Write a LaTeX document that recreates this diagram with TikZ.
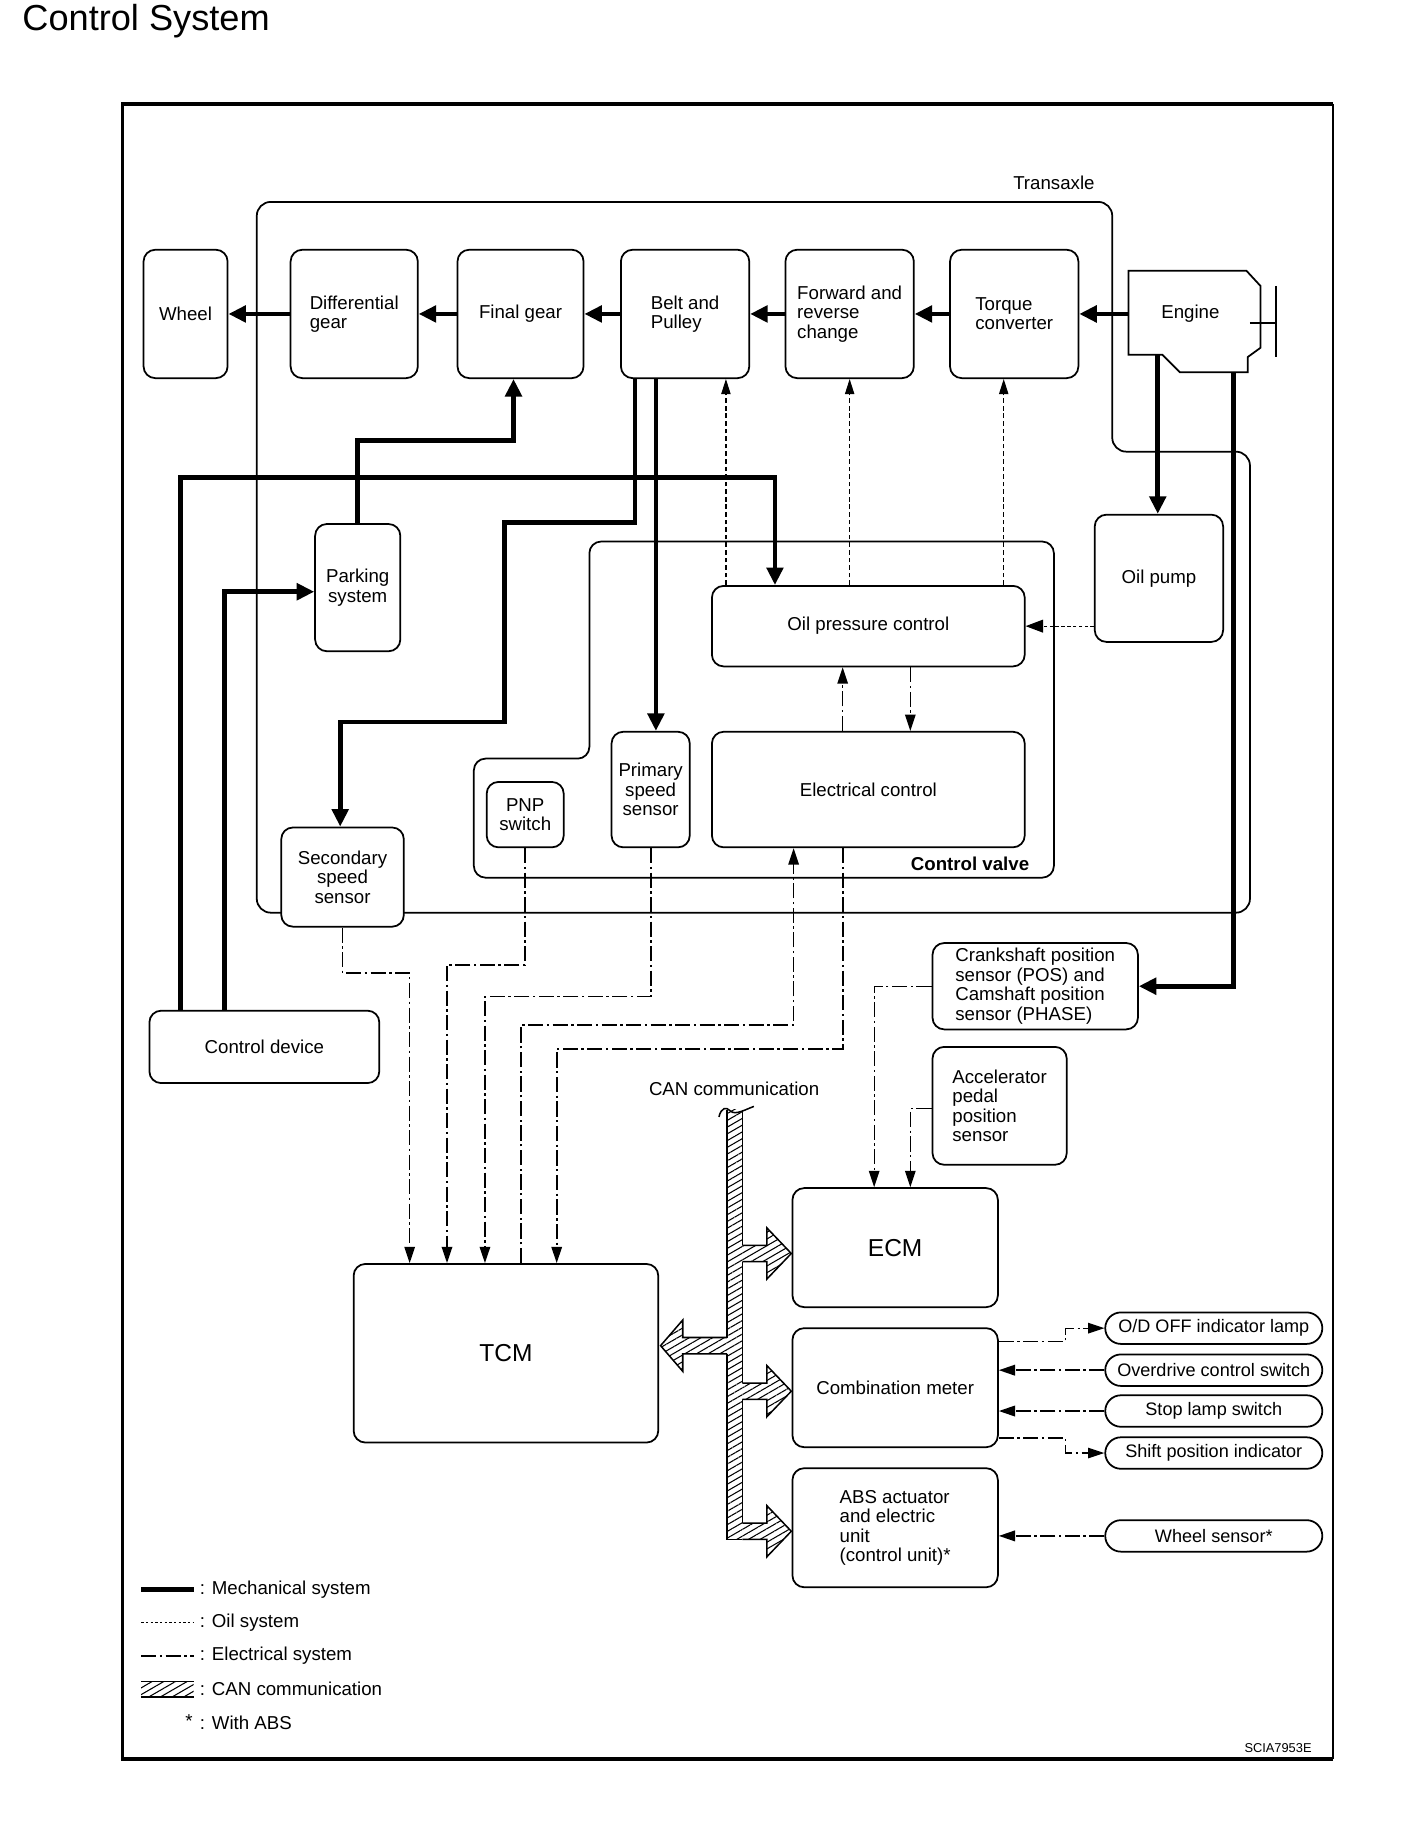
\documentclass[tikz,border=0pt]{standalone}
\usepackage{fontspec}
\setmainfont{Liberation Sans}
\usetikzlibrary{arrows.meta,patterns.meta}
\tikzset{
  txt/.style={font=\fontsize{16}{16.6}\selectfont},
  box/.style={txt,draw,line width=1.5pt,rounded corners=10pt,fill=white,inner sep=0pt,align=left},
  pill/.style={font=\fontsize{15.5}{16}\selectfont,draw,line width=1.5pt,rounded corners=13.5pt,fill=white,inner sep=0pt,minimum width=186pt,minimum height=27pt},
  mech/.style={line width=4pt,-{Triangle[length=15pt,width=14pt]}},
  oil/.style={line width=1pt,dash pattern=on 4pt off 2.5pt,-{Triangle[length=13pt,width=8pt]}},
  elecline/.style={line width=1.1pt,dash pattern=on 13pt off 3pt on 2pt off 3pt},
  elec/.style={elecline,-{Triangle[length=14pt,width=9pt]}},
  elecB/.style={elec,line width=1.8pt},
  hatch/.style={pattern={Lines[angle=30,distance=5pt,line width=0.9pt]}},
  thin/.style={line width=1.5pt},
}
\newcommand\canR[1]{%
  \fill[white] (636,#1-7) -- (657,#1-7) -- (657,#1-22) -- (678,#1) -- (657,#1+22) -- (657,#1+7) -- (636,#1+7) -- cycle;
  \path[hatch] (636,#1-7) -- (657,#1-7) -- (657,#1-22) -- (678,#1) -- (657,#1+22) -- (657,#1+7) -- (636,#1+7) -- cycle;
  \draw[line width=1.3pt,line join=miter] (636,#1-7) -- (657,#1-7) -- (657,#1-22) -- (678,#1) -- (657,#1+22) -- (657,#1+7) -- (636,#1+7);}
\begin{document}
\begin{tikzpicture}[x=1pt,y=-1pt]
\fill[white] (0,0) rectangle (1206,1568);
\useasboundingbox (0,0) rectangle (1206,1568);

% title
\node[anchor=west,inner sep=0,font=\fontsize{31}{31}\selectfont] (title) at (19,18) {Control System};

% outer frame
\draw[line width=1.8pt] (1142,89) -- (1142,1507);
\draw[line width=3pt] (1142,89) -- (105,89) -- (105,1507) -- (1142,1507);

% transaxle boundary
\draw[thin,rounded corners=12pt] (953,300) -- (953,173) -- (220,173) -- (220,782) -- (1071,782) -- (1071,387) -- (953,387) -- cycle;
\node[txt] (transaxle) at (903,157) {Transaxle};

% control valve boundary
\draw[thin,rounded corners=10pt] (700,464) -- (903,464) -- (903,752) -- (406,752) -- (406,650) -- (505,650) -- (505,464) -- cycle;
\node[font=\fontsize{16}{16.6}\selectfont\bfseries,anchor=east,inner sep=0] (cvlabel) at (882,740) {Control valve};

% top row
\node[box,minimum width=72pt,minimum height=110pt] (wheel) at (159,269) {Wheel};
\node[box,minimum width=109pt,minimum height=110pt] (diff) at (303.5,269) {Differential\\gear};
\node[box,minimum width=108pt,minimum height=110pt] (final) at (446,269) {Final gear};
\node[box,minimum width=110pt,minimum height=110pt] (belt) at (587,269) {Belt and\\Pulley};
\node[box,minimum width=110pt,minimum height=110pt] (frc) at (728,269) {Forward and\\reverse\\change};
\node[box,minimum width=110pt,minimum height=110pt] (tc) at (869,269) {Torque\\converter};

% engine
\draw[thin,line join=miter] (967,232) -- (1068,232) -- (1080,245) -- (1080,298) -- (1069,306) -- (1069,319) -- (1011,319) -- (996,304) -- (967,304) -- cycle;
\draw[thin] (1093,245) -- (1093,306);
\draw[thin] (1071,277) -- (1093,277);
\node[txt,inner sep=0] (engine) at (1020,269) {Engine};
\coordinate (engw) at (967,269);
\coordinate (engb1) at (992,304);
\coordinate (engb2) at (1057,319);

% middle
\node[box,align=center,minimum width=73pt,minimum height=109pt] (parking) at (306.5,503.5) {Parking\\system};
\node[box,minimum width=110pt,minimum height=109pt] (oilpump) at (993,495.5) {Oil pump};
\node[box,minimum width=268pt,minimum height=69pt] (opc) at (744,536.5) {Oil pressure control};
\node[box,minimum width=268pt,minimum height=99pt] (ec) at (744,676.5) {Electrical control};
\node[box,align=center,minimum width=66pt,minimum height=56pt] (pnp) at (450,698) {PNP\\switch};
\node[box,align=center,minimum width=67pt,minimum height=99pt] (pss) at (557.5,676.5) {Primary\\speed\\sensor};
\node[box,align=center,minimum width=105pt,minimum height=85pt] (sss) at (293.5,751.5) {Secondary\\speed\\sensor};
\node[box,minimum width=197pt,minimum height=62pt] (cdev) at (226.5,897) {Control device};
\node[box,minimum width=176pt,minimum height=74pt] (crank) at (887,845) {Crankshaft position\\sensor (POS) and\\Camshaft position\\sensor (PHASE)};
\node[box,minimum width=115pt,minimum height=101pt] (accel) at (856.5,947.5) {Accelerator\\pedal\\position\\sensor};

% lower
\node[box,font=\fontsize{21}{21}\selectfont,minimum width=176pt,minimum height=102pt] (ecm) at (767,1069) {ECM};
\node[box,minimum width=176pt,minimum height=102pt] (cm) at (767,1189) {Combination meter};
\node[box,minimum width=176pt,minimum height=102pt] (abs) at (767,1309) {ABS actuator\\and electric\\unit\\(control unit)*};
\node[box,font=\fontsize{21}{21}\selectfont,minimum width=261pt,minimum height=153pt] (tcm) at (433.5,1159.5) {TCM};

\node[pill] (od) at (1040,1138) {O/D OFF indicator lamp};
\node[pill] (odsw) at (1040,1174) {Overdrive control switch};
\node[pill] (stop) at (1040,1209) {Stop lamp switch};
\node[pill] (shift) at (1040,1245) {Shift position indicator};
\node[pill] (wsen) at (1040,1316) {Wheel sensor*};

% mechanical
\draw[mech] (engw) -- (tc.east);
\draw[mech] (tc.west) -- (frc.east);
\draw[mech] (frc.west) -- (belt.east);
\draw[mech] (belt.west) -- (final.east);
\draw[mech] (final.west) -- (diff.east);
\draw[mech] (diff.west) -- (wheel.east);
\draw[mech] ([xshift=-43pt]belt.south) -- ++(0,123) -- ++(-112,0) -- ++(0,171) -| ([xshift=-2pt]sss.north);
\coordinate (b2) at ([xshift=-25pt]belt.south);
\draw[mech] (b2) -- (b2 |- pss.north);
\draw[mech] (parking.north) -- ++(0,-71) -| ([xshift=-6pt]final.south);
\coordinate (cd1) at ([xshift=-72pt]cdev.north);
\draw[mech] (cd1) -- ++(0,-456) -| ([xshift=-80pt]opc.north);
\coordinate (cd2) at ([xshift=-34pt]cdev.north);
\draw[mech] (cd2) |- ([yshift=-3.5pt]parking.west);
\draw[mech] (engb1) -- (engb1 |- oilpump.north);
\draw[mech] (engb2) |- (crank.east);

% oil
\coordinate (o1) at ([xshift=-122pt]opc.north);
\coordinate (o2) at ([xshift=-16pt]opc.north);
\coordinate (o3) at ([xshift=116pt]opc.north);
\draw[oil] (o1) -- (o1 |- belt.south);
\draw[oil] (o2) -- (o2 |- frc.south);
\draw[oil] (o3) -- (o3 |- tc.south);
\draw[oil,dash pattern=on 3pt off 2pt,-{Triangle[length=15pt,width=11pt]}] (opc.east -| oilpump.west) -- (opc.east);

% electrical
\draw[elec] ([xshift=-22pt]ec.north) -- ([xshift=-22pt]opc.south);
\draw[elec] ([xshift=36pt]opc.south) -- ([xshift=36pt]ec.north);
\draw[elec] (sss.south) -- ++(0,39) -| ([xshift=-82.5pt]tcm.north);
\draw[elec,line width=1.5pt] (pnp.south) -- ++(0,100) -| ([xshift=-50.5pt]tcm.north);
\draw[elec,line width=1.5pt] (pss.south) -- ++(0,127) -| ([xshift=-18pt]tcm.north);
\draw[elec] ([xshift=13pt]tcm.north) -- ++(0,-204) -| ([xshift=-64pt]ec.south);
\draw[elec,line width=1.5pt] ([xshift=-22pt]ec.south) -- ++(0,172) -| ([xshift=43.5pt]tcm.north);
\draw[elec] (crank.west) -| ([xshift=-18pt]ecm.north);
\draw[elec] ([yshift=-2.5pt]accel.west) -| ([xshift=13pt]ecm.north);
\draw[elec] ([yshift=39.5pt]cm.east) -- ++(57,0) |- (od.west);
\draw[elecB] (odsw.west) -- (odsw.west -| cm.east);
\draw[elecB] (stop.west) -- (stop.west -| cm.east);
\draw[elec] ([yshift=-43pt]cm.east) -- ++(57,0) |- (shift.west);
\draw[elecB] (wsen.west) -- (wsen.west -| abs.east);

% CAN communication
\node[txt] (canlabel) at (629,933) {CAN communication};
\fill[white] (623,951) rectangle (636,1319);
\path[hatch] (623,951) rectangle (636,1319);
\draw[line width=1.3pt] (623,951) -- (623,1146);
\draw[line width=1.3pt] (623,1160) -- (623,1319) -- (636,1319);
\draw[line width=1.3pt] (636,951) -- (636,1067);
\draw[line width=1.3pt] (636,1081) -- (636,1185);
\draw[line width=1.3pt] (636,1199) -- (636,1305);
\draw[line width=1.3pt] (616,957) .. controls (618,949) and (622,948) .. (626,952) .. controls (630,956) and (640,950) .. (646,948);
\canR{1074}
\canR{1192}
\canR{1312}
\fill[white] (623,1146) -- (585,1146) -- (585,1131) -- (566,1153) -- (585,1175) -- (585,1160) -- (623,1160) -- cycle;
\path[hatch] (623,1146) -- (585,1146) -- (585,1131) -- (566,1153) -- (585,1175) -- (585,1160) -- (623,1160) -- cycle;
\draw[line width=1.3pt,line join=miter] (623,1146) -- (585,1146) -- (585,1131) -- (566,1153) -- (585,1175) -- (585,1160) -- (623,1160);

% legend
\draw[line width=4pt] (121,1362) -- (166,1362);
\node[txt,anchor=west,inner sep=0] (leg1) at (171,1362) {: Mechanical system};
\draw[line width=1pt,dash pattern=on 2pt off 2pt] (121,1390) -- (166,1390);
\node[txt,anchor=west,inner sep=0] (leg2) at (171,1390) {: Oil system};
\draw[elecline] (121,1419) -- (166,1419);
\node[txt,anchor=west,inner sep=0] (leg3) at (171,1419) {: Electrical system};
\path[hatch] (121,1441) rectangle (166,1454);
\draw[line width=1pt] (121,1441) -- (166,1441) (121,1454) -- (166,1454);
\node[txt,anchor=west,inner sep=0] (leg4) at (171,1447) {: CAN communication};
\node[txt,inner sep=0] (star) at (162,1475) {*};
\node[txt,anchor=west,inner sep=0] (leg5) at (171,1476) {: With ABS};
\node[anchor=east,inner sep=0,font=\fontsize{11}{11}\selectfont] (code) at (1124,1498) {SCIA7953E};
\end{tikzpicture}
\end{document}
